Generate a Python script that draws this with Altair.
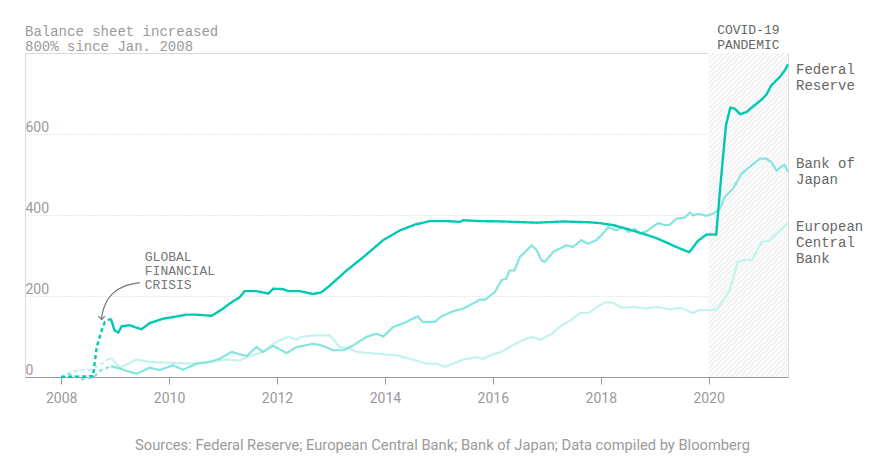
import altair as alt
import pandas as pd

# ---------------- data ----------------
# % change in balance sheet since Jan. 2008, x in decimal years
fed_year = [2008.0, 2008.3, 2008.59, 2008.66, 2008.75, 2008.81, 2008.92, 2008.99, 2009.06, 2009.12,
            2009.27, 2009.37, 2009.49, 2009.64, 2009.89, 2010.08, 2010.32, 2010.51, 2010.79, 2010.97,
            2011.13, 2011.31, 2011.40, 2011.62, 2011.84, 2011.93, 2012.11, 2012.21, 2012.42, 2012.67,
            2012.82, 2012.98, 2013.29, 2013.60, 2013.97, 2014.28, 2014.55, 2014.83, 2015.14, 2015.39,
            2015.45, 2015.76, 2016.19, 2016.81, 2017.30, 2017.80, 2017.98, 2018.23, 2018.48, 2018.78,
            2019.03, 2019.22, 2019.40, 2019.64, 2019.80, 2019.96, 2020.14, 2020.22, 2020.32, 2020.40,
            2020.48, 2020.58, 2020.70, 2020.85, 2020.98, 2021.07, 2021.16, 2021.32, 2021.41, 2021.47]
fed_value = [0, 1, 2, 74, 115, 136, 144, 115, 110, 125,
             128, 123, 118, 133, 144, 148, 154, 154, 151, 166,
             182, 197, 212, 212, 206, 218, 217, 212, 212, 205,
             209, 226, 263, 296, 338, 362, 376, 385, 385, 383,
             387, 385, 384, 381, 384, 382, 380, 375, 366, 354,
             343, 332, 321, 308, 336, 352, 352, 477, 621, 665,
             663, 649, 654, 671, 685, 697, 720, 741, 757, 772]

boj_year = [2008.0, 2008.15, 2008.4, 2008.6, 2008.73, 2008.92, 2009.09, 2009.21, 2009.40, 2009.64,
            2009.82, 2010.07, 2010.26, 2010.51, 2010.75, 2010.94, 2011.16, 2011.31, 2011.44, 2011.62,
            2011.74, 2011.93, 2012.18, 2012.36, 2012.67, 2012.85, 2013.04, 2013.23, 2013.41, 2013.66,
            2013.84, 2013.97, 2014.15, 2014.40, 2014.61, 2014.70, 2014.92, 2015.05, 2015.26, 2015.45,
            2015.57, 2015.76, 2015.86, 2016.04, 2016.16, 2016.25, 2016.31, 2016.40, 2016.50, 2016.72,
            2016.81, 2016.90, 2016.96, 2017.12, 2017.36, 2017.49, 2017.64, 2017.76, 2017.92, 2018.04,
            2018.14, 2018.29, 2018.41, 2018.51, 2018.63, 2018.72, 2018.85, 2019.06, 2019.19, 2019.28,
            2019.40, 2019.56, 2019.65, 2019.71, 2019.80, 2019.96, 2020.08, 2020.21, 2020.30, 2020.45,
            2020.61, 2020.76, 2020.95, 2021.07, 2021.16, 2021.26, 2021.35, 2021.41, 2021.47]
boj_value = [0, 7, -6, 0, 16, 27, 21, 15, 8, 23,
             17, 29, 18, 33, 37, 45, 62, 56, 52, 74,
             62, 77, 59, 74, 82, 77, 66, 66, 78, 99,
             107, 100, 123, 136, 150, 136, 136, 150, 162, 169,
             177, 191, 191, 210, 239, 243, 263, 263, 296, 325,
             313, 288, 284, 309, 325, 321, 338, 329, 338, 354,
             370, 362, 370, 358, 366, 354, 360, 380, 375, 376,
             391, 394, 406, 399, 403, 398, 403, 416, 445, 465,
             502, 519, 539, 539, 531, 509, 520, 523, 506]

ecb_year = [2008.0, 2008.1, 2008.3, 2008.55, 2008.7, 2008.8, 2008.92, 2009.09, 2009.40, 2009.64,
            2010.07, 2010.39, 2010.70, 2011.06, 2011.31, 2011.44, 2011.74, 2011.93, 2012.21, 2012.36,
            2012.45, 2012.67, 2012.98, 2013.16, 2013.35, 2013.47, 2013.72, 2013.97, 2014.21, 2014.46,
            2014.77, 2014.96, 2015.11, 2015.45, 2015.70, 2015.82, 2016.00, 2016.16, 2016.31, 2016.55,
            2016.72, 2016.88, 2017.10, 2017.25, 2017.44, 2017.62, 2017.78, 2017.93, 2018.09, 2018.23,
            2018.39, 2018.60, 2018.85, 2019.03, 2019.28, 2019.47, 2019.71, 2019.83, 2020.01, 2020.14,
            2020.27, 2020.39, 2020.54, 2020.70, 2020.80, 2020.98, 2021.14, 2021.32, 2021.47]
ecb_value = [0, 8, 16, 18, 29, 37, 48, 23, 43, 37,
             35, 33, 37, 43, 41, 49, 62, 82, 100, 92,
             99, 103, 103, 74, 70, 62, 59, 56, 54, 45,
             33, 33, 25, 43, 49, 45, 56, 62, 74, 91,
             99, 92, 107, 125, 140, 158, 158, 173, 185, 183,
             171, 173, 169, 173, 167, 171, 158, 166, 165, 165,
             189, 214, 284, 290, 288, 333, 338, 362, 380]

crisis_end = 2008.92          # dashed segment ends here
pandemic_start = 2020.0
x_domain = [2007.33, 2021.47]
y_domain = [0, 800]
x_ticks = [2008, 2010, 2012, 2014, 2016, 2018, 2020]
y_ticks = [0, 200, 400, 600, 800]

series_names = ["Federal Reserve", "Bank of Japan", "European Central Bank"]
series_colors = ["#00c8b4", "#84e6dc", "#c2f4ee"]

end_labels = ["Federal\nReserve", "Bank of\nJapan", "European\nCentral\nBank"]
end_label_value = [749, 515, 361]

title_text = "Balance sheet increased\n800% since Jan. 2008"
covid_text = "COVID-19\nPANDEMIC"
gfc_text = "GLOBAL\nFINANCIAL\nCRISIS"
gfc_pos = [2009.55, 286]
arrow_year = [2009.46, 2009.15, 2008.93, 2008.81, 2008.75, 2008.75]
arrow_value = [233, 226, 206, 181, 152, 142]
source_text = "Sources: Federal Reserve; European Central Bank; Bank of Japan; Data compiled by Bloomberg"

MONO = "Liberation Mono, DejaVu Sans Mono, monospace"
SANS = "Roboto, Liberation Sans, sans-serif"

# hatch fill for the pandemic band (style only): thin "/" stripes via a linear gradient
HATCH_BG, HATCH_LINE = "#fbfbfb", "#e9e9e9"
band_aspect = 324 / 79.3
t_scale = 1 + band_aspect ** 2          # t = (X+Y) / (80 * t_scale)
period_px, line_px = 5.0, 1.3
stops = []
k = 0
while k * period_px < 420:
    t0 = k * period_px / (79.3 * t_scale)
    t1 = (k * period_px + line_px) / (79.3 * t_scale)
    stops += [alt.GradientStop(offset=t0, color=HATCH_LINE), alt.GradientStop(offset=t1, color=HATCH_LINE),
              alt.GradientStop(offset=t1, color=HATCH_BG),
              alt.GradientStop(offset=(k + 1) * period_px / (79.3 * t_scale), color=HATCH_BG)]
    k += 1
hatch = alt.LinearGradient(gradient="linear", stops=stops, x1=0, y1=0, x2=1, y2=band_aspect)

# ---------------- scales / axes ----------------
xscale = alt.Scale(domain=x_domain, nice=False, zero=False)
yscale = alt.Scale(domain=y_domain, nice=False, zero=False)
xaxis = alt.Axis(values=x_ticks, format="d", grid=False, domain=True, domainColor="#9a9a9a",
                 domainWidth=1, ticks=True, tickColor="#9a9a9a", tickSize=7, labelFont=SANS,
                 labelFontSize=14, labelColor="#9a9a9a", labelPadding=7, title=None, labelFlush=False)
yaxis = alt.Axis(values=y_ticks, grid=True, gridColor="#d0d0d0", gridDash=[1, 2], domain=False,
                 ticks=False, tickSize=0, labelAlign="left", labelBaseline="alphabetic",
                 labelPadding=0, labelOffset=-3, labelFont=SANS, labelFontSize=14,
                 labelColor="#9a9a9a", labelExpr="datum.value == 800 ? '' : datum.label", title=None)


def X(field):
    return alt.X(field, type="quantitative", scale=xscale, axis=xaxis)


def Y(field):
    return alt.Y(field, type="quantitative", scale=yscale, axis=yaxis)


def series_frame(name, years, values):
    df = pd.DataFrame({"year": years, "value": values})
    a = df[df.year <= crisis_end].assign(phase="crisis")
    b = df[df.year >= crisis_end].assign(phase="normal")
    return pd.concat([a, b]).assign(series=name)


# pandemic band
band = alt.Chart(pd.DataFrame({"x0": [pandemic_start], "x1": [x_domain[1]],
                               "y0": [y_domain[0]], "y1": [y_domain[1]]})).mark_rect(
    fill=hatch, stroke=None).encode(x=X("x0"), x2="x1", y=Y("y0"), y2="y1")

layers = [band]
data_sets = [(ecb_year, ecb_value, 2), (boj_year, boj_value, 1), (fed_year, fed_value, 0)]
for years, values, i in data_sets:
    df = series_frame(series_names[i], years, values)
    layers.append(
        alt.Chart(df).mark_line(color=series_colors[i], strokeWidth=2.4 if i == 0 else 2.2,
                                clip=False).encode(
            x=X("year"), y=Y("value"), detail="phase:N",
            strokeDash=alt.StrokeDash("phase:N", legend=None,
                                      scale=alt.Scale(domain=["crisis", "normal"],
                                                      range=[[4, 3], [1, 0]])))
    )

# end labels
lab_df = pd.DataFrame({"x": [x_domain[1]] * 3, "y": end_label_value, "t": end_labels})
layers.append(alt.Chart(lab_df).mark_text(align="left", baseline="alphabetic", dx=8, font=MONO,
                                          fontSize=14, lineHeight=16, lineBreak="\n",
                                          color="#666666").encode(x=X("x"), y=Y("y"), text="t:N"))

# title in the top-left corner
layers.append(alt.Chart(pd.DataFrame({"x": [x_domain[0]], "y": [y_domain[1]], "t": [title_text]}))
              .mark_text(align="left", baseline="alphabetic", font=MONO, fontSize=14, lineHeight=15.5,
                         lineBreak="\n", color="#9a9a9a", dy=-17.5)
              .encode(x=X("x"), y=Y("y"), text="t:N"))

# covid label
layers.append(alt.Chart(pd.DataFrame({"x": [(pandemic_start + x_domain[1]) / 2], "y": [y_domain[1]],
                                      "t": [covid_text]}))
              .mark_text(align="center", baseline="alphabetic", font=MONO, fontSize=13, lineHeight=14.4,
                         lineBreak="\n", color="#666666", dy=-18.7)
              .encode(x=X("x"), y=Y("y"), text="t:N"))

# GFC label + arrow
layers.append(alt.Chart(pd.DataFrame({"x": [gfc_pos[0]], "y": [gfc_pos[1]], "t": [gfc_text]}))
              .mark_text(align="left", baseline="alphabetic", font=MONO, fontSize=13, lineHeight=14,
                         lineBreak="\n", color="#777777")
              .encode(x=X("x"), y=Y("y"), text="t:N"))
arrow_df = pd.DataFrame({"x": arrow_year, "y": arrow_value, "o": list(range(len(arrow_year)))})
layers.append(alt.Chart(arrow_df).mark_line(color="#777777", strokeWidth=1.2, interpolate="basis")
              .encode(x=X("x"), y=Y("y"), order="o:Q"))
layers.append(alt.Chart(arrow_df.tail(1)).mark_point(shape="M-1,-1L0,0L1,-1", filled=False,
                                                      size=45, color="#777777", strokeWidth=1.2,
                                                      opacity=1)
              .encode(x=X("x"), y=Y("y")))

chart = alt.layer(*layers).properties(
    width=763, height=324,
    padding={"left": 17, "top": 45, "right": 80, "bottom": 80},
    autosize=alt.AutoSizeParams(type="none"),
    title=alt.TitleParams(source_text, orient="bottom", anchor="middle", frame="group", dx=36,
                          offset=33, font=SANS, fontSize=14.7, fontWeight="normal", color="#9a9a9a"),
).configure_view(stroke=None).configure(background="white")

chart.save("out.html", embed_options={"renderer": "svg", "actions": False})
